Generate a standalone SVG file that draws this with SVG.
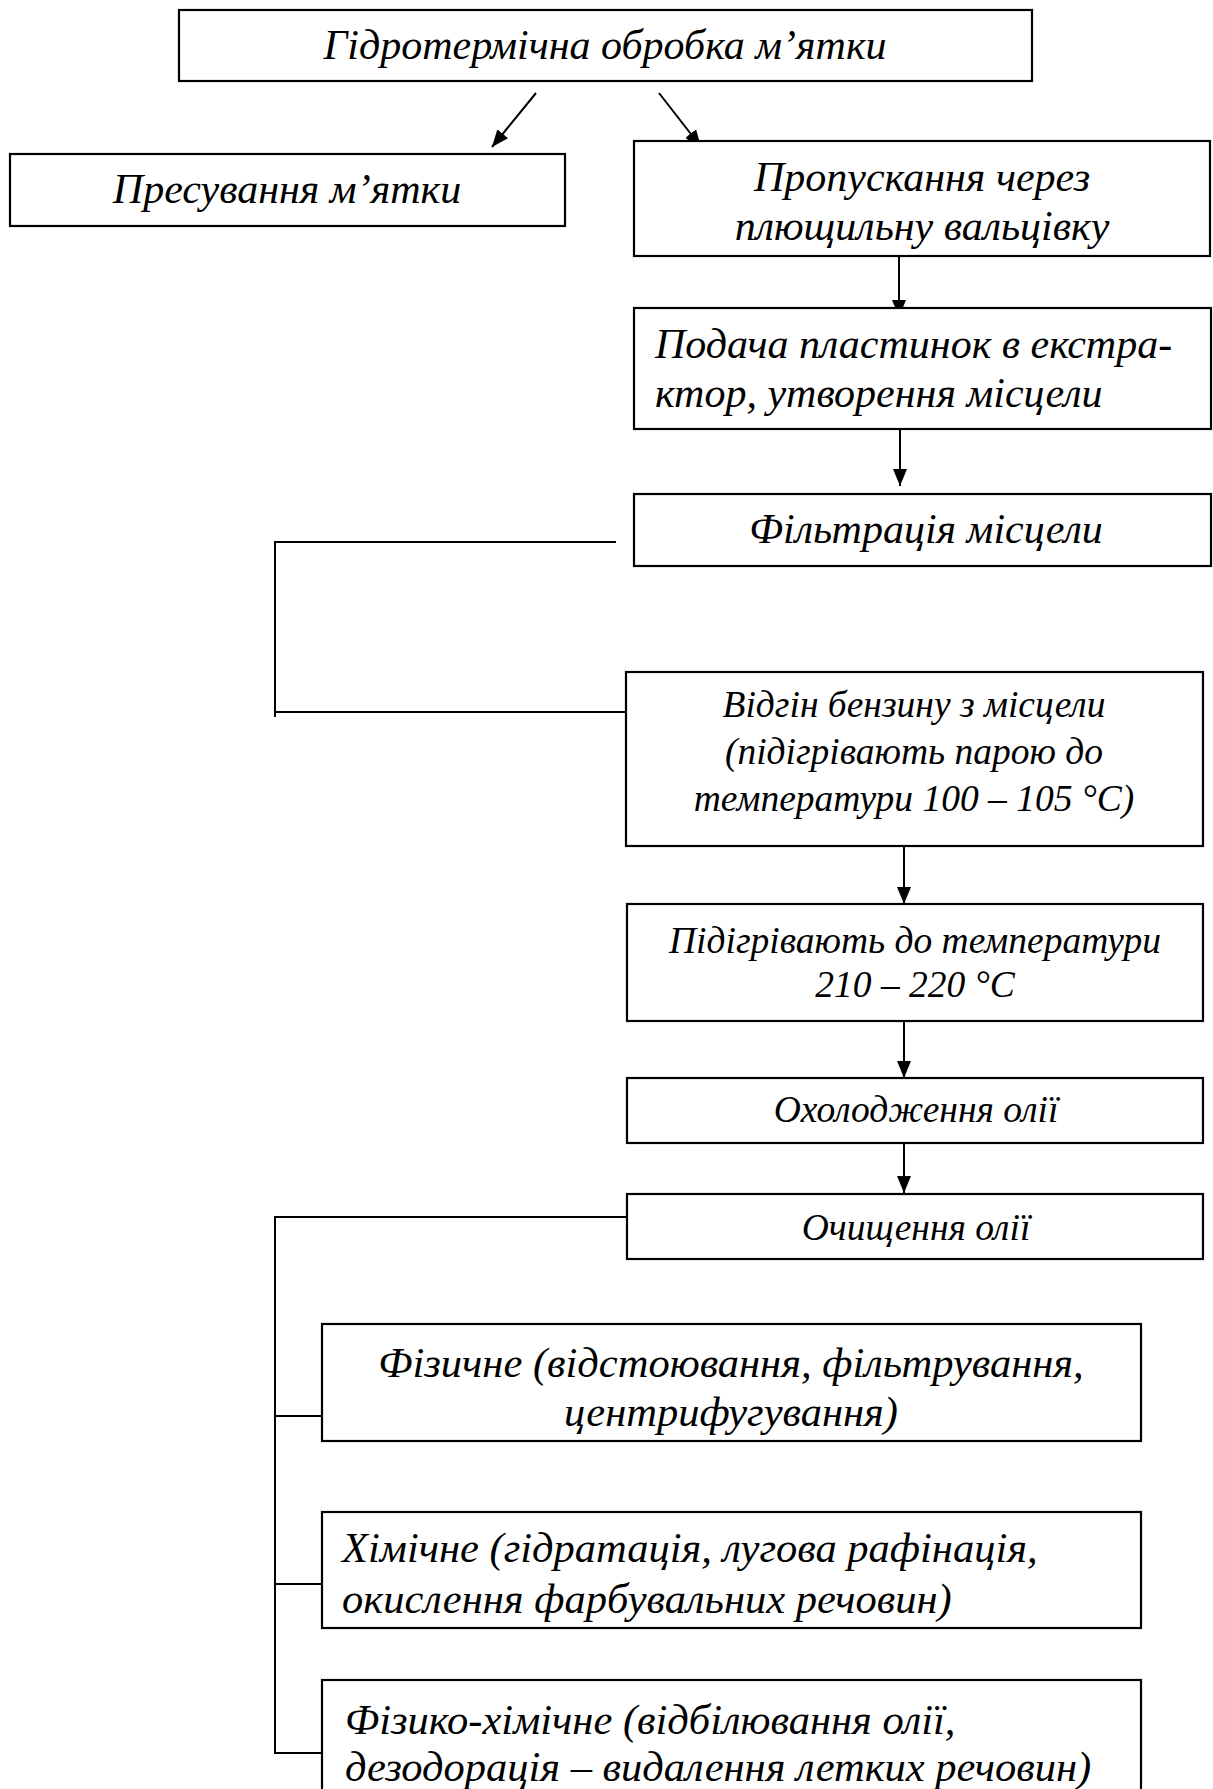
<svg xmlns="http://www.w3.org/2000/svg" width="1213" height="1789" viewBox="0 0 1213 1789">
<style>
.box{fill:#fff;stroke:#000;stroke-width:2.2}
.t{font-family:"Liberation Serif","Times New Roman",serif;font-style:italic;fill:#000}
.a{font-size:42px}
.b{font-size:37.5px}
.c{font-size:42.5px}
.mid{text-anchor:middle}
.ln{stroke:#000;stroke-width:2;fill:none}
</style>
<defs>
<marker id="ah" viewBox="0 0 17 14" refX="17" refY="7" markerWidth="17" markerHeight="14" markerUnits="userSpaceOnUse" orient="auto">
<path d="M0,0 L17,7 L0,14 z" fill="#000"/>
</marker>
</defs>
<rect width="1213" height="1789" fill="#fff"/>
<g id="connectors">
<line class="ln" x1="536" y1="93" x2="492" y2="147" marker-end="url(#ah)"/>
<line class="ln" x1="659" y1="93" x2="701" y2="147" marker-end="url(#ah)"/>
<line class="ln" x1="899" y1="256" x2="899" y2="317" marker-end="url(#ah)"/>
<line class="ln" x1="900" y1="429" x2="900" y2="486" marker-end="url(#ah)"/>
<line class="ln" x1="904" y1="846" x2="904" y2="904" marker-end="url(#ah)"/>
<line class="ln" x1="904" y1="1021" x2="904" y2="1078" marker-end="url(#ah)"/>
<line class="ln" x1="904" y1="1136" x2="904" y2="1193" marker-end="url(#ah)"/>
<polyline class="ln" points="616,542 275,542 275,717"/>
<line class="ln" x1="275" y1="712" x2="626" y2="712"/>
<polyline class="ln" points="635,1217 275,1217 275,1753 322,1753"/>
<line class="ln" x1="275" y1="1416" x2="322" y2="1416"/>
<line class="ln" x1="275" y1="1584" x2="322" y2="1584"/>
</g>
<g id="n1">
<rect class="box" x="179" y="10" width="853" height="71"/>
<text class="t a mid" x="605" y="59">Гідротермічна обробка м’ятки</text>
</g>
<g id="n2">
<rect class="box" x="10" y="154" width="555" height="72"/>
<text class="t a mid" x="287" y="203">Пресування м’ятки</text>
</g>
<g id="n3">
<rect class="box" x="634" y="141" width="576" height="115"/>
<text class="t a mid" x="922" y="191">Пропускання через</text>
<text class="t a mid" x="922" y="240">плющильну вальцівку</text>
</g>
<g id="n4">
<rect class="box" x="634" y="308" width="577" height="121"/>
<text class="t a" x="655" y="358">Подача пластинок в екстра-</text>
<text class="t a" x="655" y="407">ктор, утворення місцели</text>
</g>
<g id="n5">
<rect class="box" x="634" y="494" width="577" height="72"/>
<text class="t a mid" x="926" y="543">Фільтрація місцели</text>
</g>
<g id="n6">
<rect class="box" x="626" y="672" width="577" height="174"/>
<text class="t b mid" x="914" y="717">Відгін бензину з місцели</text>
<text class="t b mid" x="914" y="764">(підігрівають парою до</text>
<text class="t b mid" x="914" y="811">температури 100 – 105 °C)</text>
</g>
<g id="n7">
<rect class="box" x="627" y="904" width="576" height="117"/>
<text class="t b mid" x="915" y="953">Підігрівають до температури</text>
<text class="t b mid" x="915" y="997">210 – 220 °C</text>
</g>
<g id="n8">
<rect class="box" x="627" y="1078" width="576" height="65"/>
<text class="t b mid" x="916" y="1122">Охолодження олії</text>
</g>
<g id="n9">
<rect class="box" x="627" y="1194" width="576" height="65"/>
<text class="t b mid" x="916" y="1240">Очищення олії</text>
</g>
<g id="n10">
<rect class="box" x="322" y="1324" width="819" height="117"/>
<text class="t c mid" x="731" y="1377">Фізичне (відстоювання, фільтрування,</text>
<text class="t c mid" x="731" y="1426">центрифугування)</text>
</g>
<g id="n11">
<rect class="box" x="322" y="1512" width="819" height="116"/>
<text class="t c" x="342" y="1562">Хімічне (гідратація, лугова рафінація,</text>
<text class="t c" x="342" y="1613">окислення фарбувальних речовин)</text>
</g>
<g id="n12">
<rect class="box" x="322" y="1680" width="819" height="130"/>
<text class="t c" x="345" y="1734">Фізико-хімічне (відбілювання олії,</text>
<text class="t c" x="345" y="1781">дезодорація – видалення летких речовин)</text>
</g>
</svg>
